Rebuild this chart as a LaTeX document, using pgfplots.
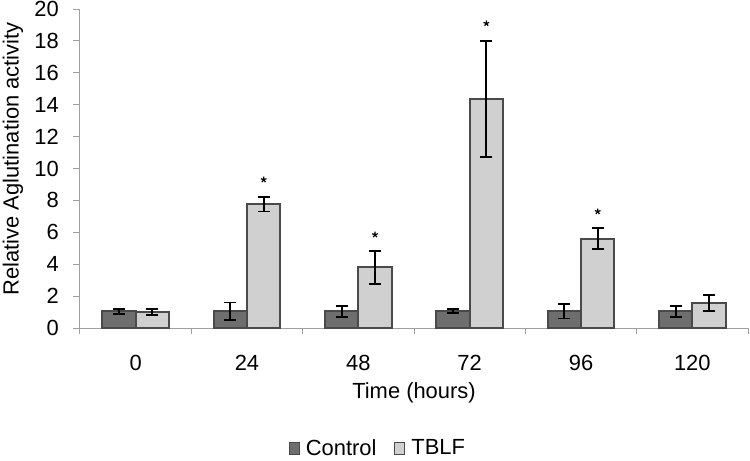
\documentclass[border=0pt]{standalone}
\usepackage{fontspec}
\setmainfont{Liberation Sans}
\usepackage{pgfplots}
\pgfplotsset{compat=1.18}
\definecolor{ctrl}{HTML}{6E6E6E}
\definecolor{tblf}{HTML}{D0D0D0}
\definecolor{edge}{HTML}{4A4A4A}
\definecolor{axgray}{HTML}{A0A0A0}
\begin{document}
\fontsize{22}{26}\selectfont
\begin{tikzpicture}
\begin{axis}[
  scale only axis, width=668bp, height=319bp,
  xmin=-0.5, xmax=5.5, ymin=0, ymax=20,
  axis x line*=bottom, axis y line*=left,
  axis line style={draw=axgray, line width=1bp},
  /pgf/number format/assume math mode=true,
  ytick={0,2,...,20},
  xtick={0,...,5}, xticklabels={0,24,48,72,96,120},
  minor xtick={-0.5,0.5,...,5.5},
  tick align=outside,
  major tick length=7bp, minor tick length=6bp,
  tick style={draw=axgray, line width=1bp},
  major x tick style={draw=none},
  minor x tick style={draw=axgray, line width=1bp},
  tick label style={font=\fontsize{22}{26}\selectfont},
  yticklabel style={anchor=east, inner sep=0pt, xshift=-14bp},
  xticklabel style={anchor=north, inner sep=0pt, yshift=-20bp},
  every axis y label/.style={at={(axis description cs:0,0.53)}, xshift=-67bp, rotate=90, anchor=center, font=\fontsize{22}{26}\selectfont},
  every axis x label/.style={at={(axis description cs:0.5,0)}, yshift=-65bp, anchor=center, font=\fontsize{22}{26}\selectfont},
  ylabel={Relative Aglutination activity},
  xlabel={Time (hours)},
  legend style={at={(axis description cs:0.446,-0.379)}, anchor=center, draw=none, fill=none,
    legend columns=2, font=\fontsize{22}{26}\selectfont,
    /tikz/every odd column/.append style={column sep=4bp},
    /tikz/every even column/.append style={column sep=16bp},
    inner sep=0pt},
  legend image code/.code={\draw[#1, line width=1bp] (0bp,-6bp) rectangle (10bp,6bp);},
  clip=false,
]
\addplot[ybar, bar width=0.3, bar shift=0, fill=ctrl, draw=edge, line width=2bp,
  error bars/.cd, y dir=both, y explicit,
  error bar style={black, line width=1.8bp},
  error mark options={rotate=90, mark size=6bp, black, line width=1.8bp}]
  coordinates {(-0.15,1.05) +- (0,0.15) (0.85,1.05) +- (0,0.55) (1.85,1.05) +- (0,0.35)
               (2.85,1.05) +- (0,0.12) (3.85,1.05) +- (0,0.45) (4.85,1.05) +- (0,0.35)};
\addlegendentry{Control}
\addplot[ybar, bar width=0.3, bar shift=0, fill=tblf, draw=edge, line width=2bp,
  error bars/.cd, y dir=both, y explicit,
  error bar style={black, line width=1.8bp},
  error mark options={rotate=90, mark size=6bp, black, line width=1.8bp}]
  coordinates {(0.15,1.0) +- (0,0.2) (1.15,7.75) +- (0,0.45) (2.15,3.8) +- (0,1.05)
               (3.15,14.35) +- (0,3.65) (4.15,5.6) +- (0,0.65) (5.15,1.55) +- (0,0.5)};
\addlegendentry{TBLF}
\addplot[only marks, mark=star, mark size=3bp, mark options={black, line width=1.2bp}, forget plot]
  coordinates {(1.15,9.3) (2.15,5.85) (3.15,19.1) (4.15,7.3)};
\end{axis}
\pgfresetboundingbox
\path[use as bounding box] (-80bp,-133bp) rectangle (670bp,328bp);
\end{tikzpicture}
\end{document}
